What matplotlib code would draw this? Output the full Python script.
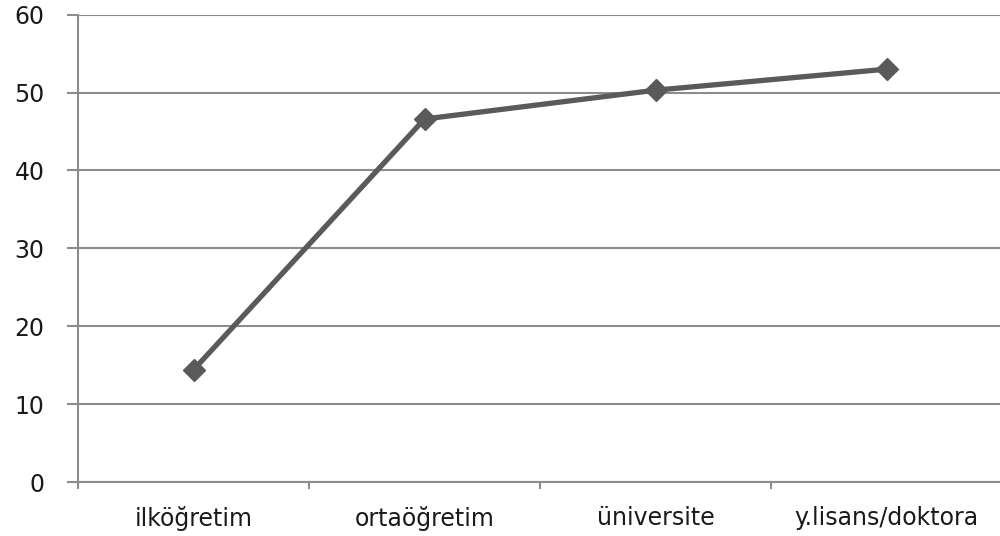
import matplotlib.pyplot as plt
from matplotlib.ticker import FixedLocator

categories = ['ilköğretim', 'ortaöğretim', 'üniversite', 'y.lisans/doktora']
values = [14.4, 46.6, 50.3, 53.0]
yticks = [0, 10, 20, 30, 40, 50, 60]

grid_col = '#8c8c8c'
line_col = '#5a5a5a'
text_col = '#1a1a1a'

fig = plt.figure(figsize=(10, 5.36), dpi=100)
ax = fig.add_axes([0.078, 0.1007, 0.924, 0.872])

x = list(range(len(categories)))
ax.plot(x, values, color=line_col, linewidth=3.8, marker='D', markersize=11,
        markerfacecolor=line_col, markeredgecolor=line_col, solid_capstyle='round')

ax.set_xlim(-0.5, len(categories) - 0.5)
ax.set_ylim(0, 60)

# horizontal grid, tick marks sticking out to the left
ax.set_yticks(yticks)
ax.yaxis.grid(True, color=grid_col, linewidth=1.5)
ax.set_axisbelow(True)
ax.tick_params(axis='y', length=8, width=1.5, color=grid_col, pad=16,
               labelsize=17, labelcolor=text_col)

# category labels centred, small ticks on the boundaries between them
ax.set_xticks(x)
ax.set_xticklabels(categories)
ax.xaxis.set_minor_locator(FixedLocator([i + 0.5 for i in range(-1, len(categories))]))
ax.tick_params(axis='x', which='major', length=0, pad=17, labelsize=17,
               labelcolor=text_col)
ax.tick_params(axis='x', which='minor', length=5, width=1.5, color=grid_col)

for side in ['top', 'right']:
    ax.spines[side].set_visible(False)
for side in ['left', 'bottom']:
    ax.spines[side].set_color(grid_col)
    ax.spines[side].set_linewidth(1.5)

fig.savefig('out.png', dpi=100)
